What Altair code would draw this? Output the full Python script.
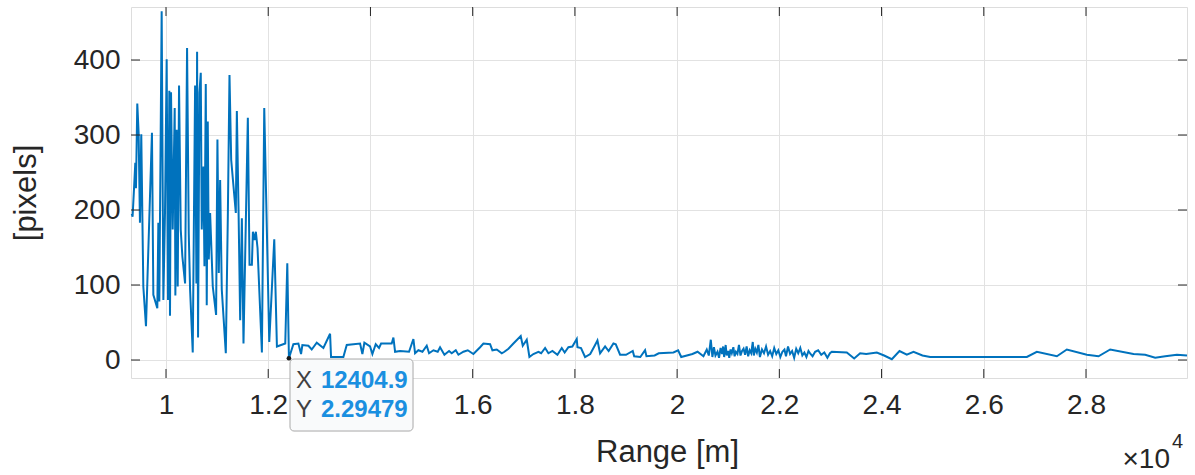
import altair as alt
import pandas as pd

# ---- data ----
range_m = [
    9330, 9346, 9373, 9399, 9412, 9438, 9464, 9490, 9516, 9556, 9608, 9725, 9752, 9830, 9850, 9869,
    9915, 9948, 9980, 10013, 10039, 10065, 10078, 10098, 10131, 10170, 10183, 10209, 10229, 10255,
    10288, 10320, 10373, 10412, 10445, 10471, 10523, 10569, 10595, 10608, 10627, 10654, 10680, 10699,
    10732, 10752, 10778, 10797, 10817, 10837, 10863, 10915, 10980, 11006, 11033, 11059, 11091, 11170,
    11209, 11242, 11275, 11366, 11386, 11418, 11451, 11484, 11516, 11601, 11634, 11680, 11700, 11732,
    11758, 11791, 11876, 11922, 12020, 12118, 12170, 12333, 12373, 12405,
    12492, 12590, 12642, 12668, 12786, 12851, 12949, 13079, 13210, 13229, 13470, 13536, 13797, 13842,
    13881, 13992, 14038, 14103, 14168, 14208, 14416, 14449, 14482, 14579, 14755, 14840, 14873, 14938,
    15017, 15101, 15147, 15232, 15316, 15362, 15447, 15538, 15590, 15669, 15721, 15819, 15904, 16014,
    16145, 16210, 16341, 16386, 16471, 16569, 16621, 16700, 16797, 16940, 16980, 17058, 17110, 17188,
    17286, 17340, 17417, 17482, 17560, 17658, 17743, 17800, 17873, 17950, 18036, 18050, 18120, 18199,
    18300, 18395, 18441, 18493, 18591, 18660, 18754, 18800, 18884, 19000, 19132, 19160, 19280, 19373,
    19400, 19560, 19640, 19928, 20020, 20080, 20300, 20400, 20515, 20580, 20620, 20659, 20690, 20720,
    20750, 20790, 20820, 20850, 20880, 20900, 20920, 20950, 20970, 21000, 21020, 21045, 21070, 21100,
    21125, 21150, 21180, 21210, 21240, 21270, 21300, 21330, 21360, 21390, 21420, 21450, 21480, 21500,
    21530, 21560, 21590, 21620, 21660, 21700, 21740, 21780, 21820, 21860, 21900, 21940, 21980, 22020,
    22060, 22100, 22130, 22170, 22210, 22250, 22290, 22330, 22370, 22410, 22450, 22490, 22530, 22570,
    22610, 22650, 22700, 22760, 22820, 22880, 22940, 22990, 23027, 23320, 23464, 23581, 23700, 23907,
    24050, 24201, 24351, 24494, 24625, 24800, 24951, 25147, 26843, 27038, 27430, 27625, 28017, 28245,
    28473, 28930, 29158, 29354, 29550, 29778, 29976,
]
pixels = [
    195, 191, 227, 263, 229, 342, 303, 183, 301, 98, 45, 303, 87, 69, 183, 78,
    465, 80, 196, 401, 80, 359, 59, 357, 174, 336, 86, 307, 98, 366,
    174, 138, 102, 416, 169, 94, 10, 366, 102, 411, 30, 356, 383, 174,
    258, 125, 368, 73, 318, 134, 196, 98, 60, 294, 116, 240, 94, 9,
    189, 380, 267, 196, 332, 205, 53, 189, 22, 323, 127, 127, 171, 160,
    171, 149, 10, 336, 24, 161, 18, 22, 129, 2.29479,
    21, 22, 8, 20, 19, 14, 23, 16, 35, 4, 4, 20, 22, 8,
    23, 18, 8, 21, 16, 22, 22, 30, 11, 12, 11, 28, 9, 13,
    11, 19, 9, 13, 11, 17, 7, 12, 9, 13, 7, 11, 13, 8,
    17, 22, 21, 13, 14, 9, 11, 15, 22, 32, 19, 27, 4, 8,
    11, 9, 16, 9, 12, 7, 16, 10, 17, 18, 28, 17, 16, 4,
    8, 20, 26, 9, 18, 12, 22, 21, 7, 7, 12, 5, 4, 13,
    5, 6, 9, 10, 13, 4, 8, 11, 5, 14, 6, 27, 4, 17,
    6, 11, 3, 16, 8, 18, 4, 20, 6, 12, 3, 14, 9, 17,
    5, 11, 8, 20, 6, 12, 15, 7, 18, 5, 13, 9, 24, 6,
    15, 10, 20, 4, 14, 9, 18, 7, 12, 5, 16, 8, 13, 4,
    11, 14, 5, 18, 8, 12, 3, 15, 9, 16, 6, 10, 4, 12,
    8, 5, 11, 13, 7, 10, 3, 9, 11, 10, 2, 9, 8, 10,
    6, 1, 12, 7, 11, 6, 4, 4, 4, 11, 5, 14, 7, 5,
    14, 8, 7, 3, 5, 7, 6,
]
x_ticks = [10000, 12000, 14000, 16000, 18000, 20000, 22000, 24000, 26000, 28000]
hidden_x_label = 14000  # covered by the data tip in the reference
y_ticks = [0, 100, 200, 300, 400]
tip_x = 12404.9
tip_y = 2.29479

W, H = 1056, 371
FONT = "Liberation Sans"
TXT = "#262626"
BLUE = "#0072BD"

xs = alt.Scale(domain=[9315, 29976], nice=False, zero=False)
ys = alt.Scale(domain=[-24, 470.67], nice=False, zero=False)

x_axis = alt.Axis(values=x_ticks,
                  labelExpr=f"datum.value == {hidden_x_label} ? '' : '' + (datum.value / 10000)",
                  grid=True, gridColor="#e2e2e2", tickSize=0, domain=False,
                  labelFontSize=28, labelColor=TXT, labelFont=FONT, labelPadding=13,
                  title="Range [m]", titleFont=FONT, titleFontSize=31,
                  titleFontWeight="normal", titleColor=TXT, titlePadding=18,
                  titleX=536, titleAlign="center")
y_axis = alt.Axis(values=y_ticks, grid=True, gridColor="#e2e2e2", tickSize=0,
                  domain=False, labelFontSize=28, labelColor=TXT, labelFont=FONT,
                  labelPadding=11, title="[pixels]", titleFont=FONT, titleFontSize=31,
                  titleFontWeight="normal", titleColor=TXT, titlePadding=31)

df = pd.DataFrame({"range": range_m, "px": pixels})
dxt = pd.DataFrame({"range": x_ticks})
dyt = pd.DataFrame({"px": y_ticks})
one = pd.DataFrame({"a": [0]})

line = alt.Chart(df).mark_line(color=BLUE, strokeWidth=2).encode(
    x=alt.X("range:Q", scale=xs, axis=x_axis, title="Range [m]"),
    y=alt.Y("px:Q", scale=ys, axis=y_axis, title="[pixels]"),
)

tick_bot = alt.Chart(dxt).mark_rule(color=TXT, strokeWidth=1).encode(
    x=alt.X("range:Q", scale=xs, title="Range [m]"), y=alt.value(H), y2=alt.value(H - 9))
tick_top = alt.Chart(dxt).mark_rule(color=TXT, strokeWidth=1).encode(
    x=alt.X("range:Q", scale=xs, title="Range [m]"), y=alt.value(0), y2=alt.value(9))
tick_left = alt.Chart(dyt).mark_rule(color=TXT, strokeWidth=1).encode(
    y=alt.Y("px:Q", scale=ys, title="[pixels]"), x=alt.value(0), x2=alt.value(9))
tick_right = alt.Chart(dyt).mark_rule(color=TXT, strokeWidth=1).encode(
    y=alt.Y("px:Q", scale=ys, title="[pixels]"), x=alt.value(W), x2=alt.value(W - 9))

box = alt.Chart(one).mark_rect(fill="#f9fafb", stroke="#a9a9a9", strokeWidth=1,
                               cornerRadius=4).encode(
    x=alt.datum(12426), x2=alt.datum(14833),
    y=alt.datum(1.3), y2=alt.datum(-94.7))
dot = alt.Chart(one).mark_point(filled=True, color="#1a1a1a", size=22, opacity=1).encode(
    x=alt.datum(tip_x), y=alt.datum(tip_y))

def tip_text(txt, dx, dy, bold, color):
    return alt.Chart(one).mark_text(align="left", baseline="alphabetic", dx=dx, dy=dy,
                                    font=FONT, fontSize=24,
                                    fontWeight="bold" if bold else "normal",
                                    color=color).encode(
        x=alt.datum(tip_x), y=alt.datum(tip_y), text=alt.value(txt))

tx1 = tip_text("X", 7, 30, False, "#404040")
tv1 = tip_text(f"{tip_x}", 32, 30, True, "#1a8fe0")
tx2 = tip_text("Y", 7, 59, False, "#404040")
tv2 = tip_text(f"{tip_y}", 32, 59, True, "#1a8fe0")

exp_a = alt.Chart(one).mark_text(align="right", baseline="alphabetic", font=FONT,
                                 fontSize=28, color=TXT).encode(
    x=alt.value(1039), y=alt.value(461), text=alt.value("×10"))
exp_b = alt.Chart(one).mark_text(align="left", baseline="alphabetic", font=FONT,
                                 fontSize=20, color=TXT).encode(
    x=alt.value(1041), y=alt.value(441), text=alt.value("4"))

chart = alt.layer(
    line, tick_bot, tick_top, tick_left, tick_right, box, dot, tx1, tv1, tx2, tv2, exp_a, exp_b
).properties(
    width=W, height=H,
    padding={"left": 131, "top": 7, "right": 8, "bottom": 97},
    autosize=alt.AutoSizeParams(type="none"),
).configure_view(stroke="#4d4d4d", strokeWidth=1.2).configure(background="white")

chart.save("out.html", embed_options={"renderer": "svg", "actions": False})
